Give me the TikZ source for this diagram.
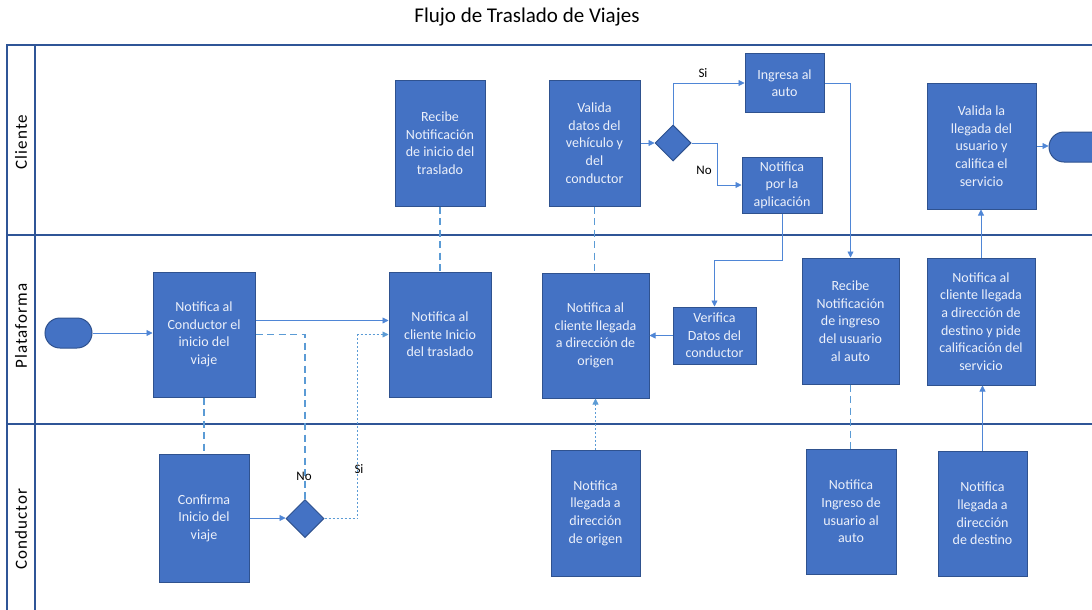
\documentclass[tikz,border=0pt]{standalone}
\usepackage{fontspec}
\setmainfont{Carlito}
\usetikzlibrary{arrows.meta,shapes.geometric,shapes.misc}
\definecolor{boxfill}{HTML}{4472C4}
\definecolor{boxline}{HTML}{2F528F}
\definecolor{boxtext}{RGB}{236,240,250}
\definecolor{lane}{HTML}{2F5597}
\definecolor{conn}{HTML}{4F86D6}
\definecolor{connl}{HTML}{5B9BD5}
\tikzset{
  box/.style={draw=boxline, fill=boxfill, line width=1pt, text=boxtext, align=center, inner sep=0pt, font=\fontsize{14}{17.6}\selectfont},
  dia/.style={diamond, draw=boxline, fill=boxfill, line width=1pt, inner sep=0pt, aspect=1},
  term/.style={rounded rectangle, draw=boxline, fill=boxfill, line width=1pt, inner sep=0pt},
  tip/.style={-{Triangle[length=6pt,width=6pt]}},
  sol/.style={draw=conn, line width=0.8pt},
  dsh/.style={draw=connl, line width=1.6pt, dash pattern=on 7pt off 4.5pt},
  dotl/.style={draw=connl, line width=0.8pt, dash pattern=on 2pt off 2pt},
  lbl/.style={font=\fontsize{13}{15}\selectfont, text=black},
  lanelbl/.style={font=\fontsize{17}{19}\selectfont\addfontfeature{LetterSpace=6}, rotate=90},
  lanel/.style={draw=lane, line width=1.5pt}
}
\begin{document}
\begin{tikzpicture}[x=1pt,y=-1pt]
\useasboundingbox (0,0) rectangle (1092,610);
\clip (0,0) rectangle (1092,610);
\fill[white] (0,0) rectangle (1092,610);
% title
\node[font=\fontsize{21}{24}\selectfont] (title) at (527,17) {Flujo de Traslado de Viajes};
% lanes
\draw[lanel] (1092,45) -- (7,45) -- (7,612);
\draw[lanel] (35,45) -- (35,612);
\draw[lanel] (7,235) -- (1092,235);
\draw[lanel] (7,424) -- (1092,424);
\node[lanelbl] (lc) at (21,142) {Cliente};
\node[lanelbl] (lp) at (21,326) {Plataforma};
\node[lanelbl] (lcd) at (21,529) {Conductor};
% Cliente lane
\node[box, minimum width=90, minimum height=126] (R1) at (440,143) {Recibe\\Notificación\\de inicio del\\traslado};
\node[box, minimum width=91, minimum height=126] (V1) at (594.5,143) {Valida\\datos del\\vehículo y\\del\\conductor};
\node[dia, minimum width=36, minimum height=36] (d2) at (673,143) {};
\node[box, minimum width=79, minimum height=58] (I) at (784.5,83) {Ingresa al\\auto};
\node[box, minimum width=80, minimum height=56] (N) at (782,185) {Notifica\\por la\\aplicación};
\node[box, minimum width=109, minimum height=126] (VL) at (981.5,146) {Valida la\\llegada del\\usuario y\\califica el\\servicio};
\node[term, minimum width=60, minimum height=30] (fin) at (1079,147) {};
% Plataforma lane
\node[term, minimum width=47, minimum height=30] (ini) at (68.5,333) {};
\node[box, minimum width=102, minimum height=125] (A) at (204,334.5) {Notifica al\\Conductor el\\inicio del\\viaje};
\node[box, minimum width=102, minimum height=125] (B) at (440,334.5) {Notifica al\\cliente Inicio\\del traslado};
\node[box, minimum width=107, minimum height=125] (O) at (595.5,335.5) {Notifica al\\cliente llegada\\a dirección de\\origen};
\node[box, minimum width=83, minimum height=57] (VD) at (714.5,335.5) {Verifica\\Datos del\\conductor};
\node[box, minimum width=97, minimum height=126] (RI) at (850.5,321) {Recibe\\Notificación\\de ingreso\\del usuario\\al auto};
\node[box, minimum width=108, minimum height=127] (ND) at (981,321.5) {Notifica al\\cliente llegada\\a dirección de\\destino y pide\\calificación del\\servicio};
% Conductor lane
\node[box, minimum width=90, minimum height=128] (C) at (204,518) {Confirma\\Inicio del\\viaje};
\node[dia, minimum width=38, minimum height=38] (d1) at (305,518.5) {};
\node[box, minimum width=89, minimum height=126] (CO) at (595.5,513) {Notifica\\llegada a\\dirección\\de origen};
\node[box, minimum width=90, minimum height=125] (CI) at (851,511.5) {Notifica\\Ingreso de\\usuario al\\auto};
\node[box, minimum width=89, minimum height=125] (CD) at (982.5,513.5) {Notifica\\llegada a\\dirección\\de destino};
% connectors
\draw[sol,tip] (ini.east) -- (ini.east -| A.west);
\draw[sol,tip] ([yshift=14pt]A.east) -- ([yshift=14pt]A.east -| B.west);
\draw[dsh] (A.east) -| (d1.north);
\draw[dotl,tip] (d1.east) -- ++(33,0) |- (B.west);
\draw[sol,tip] (C.east) -- (C.east -| d1.west);
\draw[dsh] (A.south) -- (A.south |- C.north);
\draw[dsh] (R1.south) -- (R1.south |- B.north);
\draw[dsh] (V1.south) -- (V1.south |- O.north);
\draw[dotl,tip] (CO.north) -- (CO.north |- O.south);
\draw[sol,tip] (V1.east) -- (d2.west);
\draw[sol,tip] (d2.north) |- (I.west);
\draw[sol,tip] (d2.east) -- ++(26,0) |- (N.west);
\draw[sol,tip] (I.east) -| (RI.north);
\draw[sol,tip] (N.south) -- ++(0,47) -| (VD.north);
\draw[sol,tip] (VD.west) -- (VD.west -| O.east);
\draw[dsh] (RI.south) -- (RI.south |- CI.north);
\draw[sol,tip] (CD.north) -- (CD.north |- ND.south);
\draw[sol,tip] (ND.north) -- (ND.north |- VL.south);
\draw[sol,tip] (VL.east) -- (VL.east -| fin.west);
% labels
\node[lbl] (si2) at (703,73) {Si};
\node[lbl] (no2) at (704,170) {No};
\node[lbl] (no1) at (304,476) {No};
\node[lbl] (si1) at (359,469) {Si};
\end{tikzpicture}
\end{document}
